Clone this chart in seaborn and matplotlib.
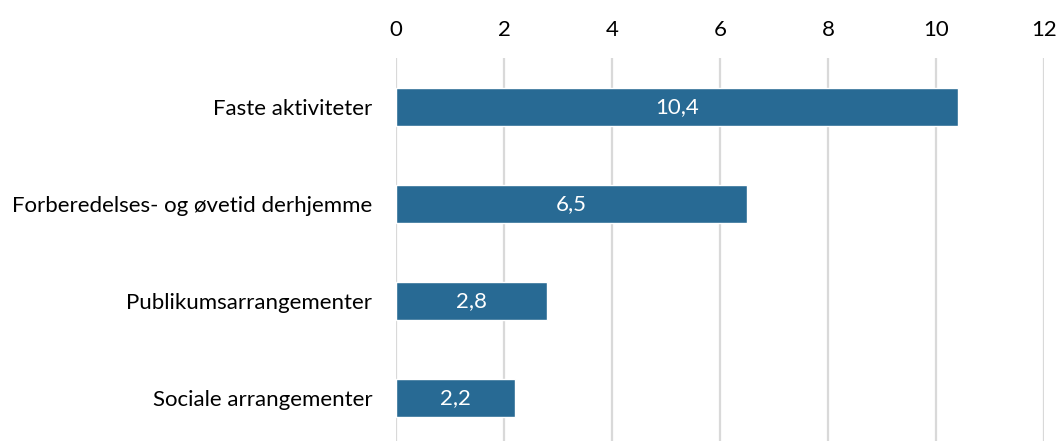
import matplotlib
matplotlib.use("Agg")
import matplotlib.pyplot as plt
import seaborn as sns
import pandas as pd

categories = ["Faste aktiviteter", "Forberedelses- og øvetid derhjemme",
              "Publikumsarrangementer", "Sociale arrangementer"]
values = [10.4, 6.5, 2.8, 2.2]
ticks = [0, 2, 4, 6, 8, 10, 12]

sns.set_theme(style="white")
plt.rcParams['font.family'] = ['Lato', 'DejaVu Sans']

df = pd.DataFrame({"cat": categories, "val": values})

fig = plt.figure(figsize=(10.59, 4.41), dpi=100)
ax = fig.add_axes([396/1059, 0, (1044-396)/1059, 1 - 58/441])
sns.barplot(data=df, x="val", y="cat", color="#286a94", saturation=1,
            width=0.40, ax=ax, zorder=3)
ax.set_xlim(0, 12)
ax.set_ylim(3.443, -0.505)
ax.set_xticks(ticks)
ax.xaxis.tick_top()
ax.tick_params(axis='x', length=0, pad=13, labelsize=16, colors='black')
ax.tick_params(axis='y', length=0, pad=17, labelsize=16, colors='black')
ax.grid(axis='x', color='#d9d9d9', linewidth=1.6, zorder=0)
ax.set_axisbelow(True)
for s in ax.spines.values():
    s.set_visible(False)
ax.set_xlabel("")
ax.set_ylabel("")
for i, v in enumerate(values):
    ax.text(v / 2, i, f"{v:.1f}".replace(".", ","), ha='center', va='center',
            color='white', fontsize=16, zorder=4)
fig.savefig("out.png", dpi=100)
